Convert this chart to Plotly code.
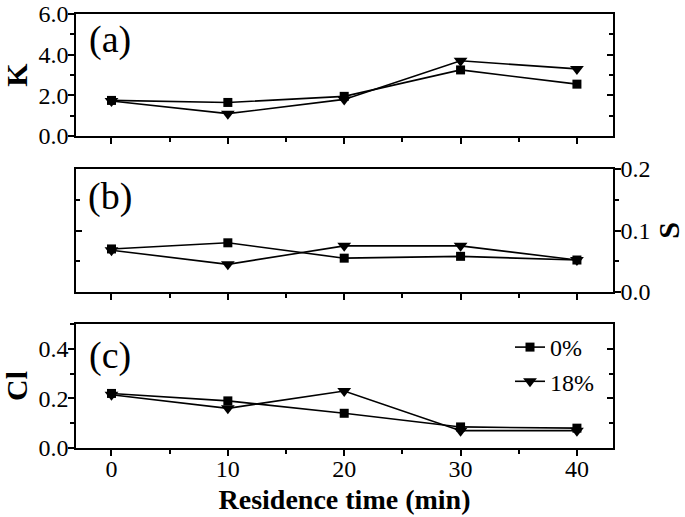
import plotly.graph_objects as go

# ---- data ----
time_min = [0, 10, 20, 30, 40]
series_names = ["0%", "18%"]

K_0 = [1.75, 1.65, 1.95, 3.25, 2.55]
K_18 = [1.72, 1.10, 1.80, 3.70, 3.30]

S_0 = [0.070, 0.080, 0.055, 0.058, 0.052]
S_18 = [0.068, 0.045, 0.075, 0.075, 0.052]

Cl_0 = [0.220, 0.190, 0.140, 0.085, 0.080]
Cl_18 = [0.215, 0.160, 0.230, 0.070, 0.070]

x_ticks = [0, 10, 20, 30, 40]
K_ticks = [0, 2, 4, 6]
K_ticktext = ["0.0", "2.0", "4.0", "6.0"]
S_ticks = [0, 0.1, 0.2]
S_ticktext = ["0.0", "0.1", "0.2"]
Cl_ticks = [0, 0.2, 0.4]
Cl_ticktext = ["0.0", "0.2", "0.4"]

FONT = "Liberation Serif"
BLACK = "#000000"

fig = go.Figure()

def add_pair(y0, y18, xa, ya, legend):
    fig.add_trace(go.Scatter(x=time_min, y=y0, xaxis=xa, yaxis=ya, mode="lines+markers",
                             name=series_names[0], showlegend=legend,
                             line=dict(color=BLACK, width=1.6),
                             marker=dict(symbol="square", size=9, color=BLACK)))
    fig.add_trace(go.Scatter(x=time_min, y=y18, xaxis=xa, yaxis=ya, mode="lines+markers",
                             name=series_names[1], showlegend=legend,
                             line=dict(color=BLACK, width=1.6),
                             marker=dict(symbol="triangle-down", size=12, color=BLACK)))

add_pair(K_0, K_18, "x", "y", False)
add_pair(S_0, S_18, "x2", "y2", False)
add_pair(Cl_0, Cl_18, "x3", "y3", True)

# dummy traces so the mirror-tick axes are drawn
for xa, ya in [("x", "y4"), ("x2", "y5"), ("x3", "y6")]:
    fig.add_trace(go.Scatter(x=[None], y=[None], xaxis=xa, yaxis=ya, showlegend=False,
                             hoverinfo="skip"))

XD = [76 / 685, 613 / 685]
XR = [-3.05, 43.1]
H = 517.0
dom_a = [1 - 136 / H, 1 - 14 / H]
dom_b = [1 - 292 / H, 1 - 169 / H]
dom_c = [1 - 448 / H, 1 - 324 / H]

TICKFONT = dict(family=FONT, size=24, color=BLACK)

def xaxis(anchor, labels):
    return dict(showline=True, linecolor=BLACK, linewidth=1.6, showgrid=False,
                zeroline=False, automargin=False, tickcolor=BLACK, tickwidth=1.5,
                tickfont=TICKFONT, ticklabelstandoff=-8,
                domain=XD, range=XR, anchor=anchor, mirror=True, ticks="outside", ticklen=6,
                tickmode="array", tickvals=x_ticks, showticklabels=labels,
                minor=dict(ticks="outside", ticklen=4, dtick=5, tick0=0, tickcolor=BLACK,
                           tickwidth=1.5, showgrid=False))

def yaxis(anchor, dom, rng, tv, tt, dtick_minor, side, title, standoff):
    return dict(showline=True, linecolor=BLACK, linewidth=1.6, showgrid=False,
                zeroline=False, automargin=False, tickcolor=BLACK, tickwidth=1.5,
                tickfont=TICKFONT, ticklabelstandoff=-5,
                domain=dom, range=rng, anchor=anchor, mirror=True, side=side, ticks="outside",
                ticklen=6, tickmode="array", tickvals=tv, ticktext=tt,
                minor=dict(ticks="outside", ticklen=4, dtick=dtick_minor, tick0=0,
                           tickcolor=BLACK, tickwidth=1.5, showgrid=False),
                title=dict(text="<b>" + title + "</b>",
                           font=dict(family=FONT, size=30, color=BLACK), standoff=standoff))

def ymirror(over, anchor, rng, tv, dtick_minor, side):
    return dict(overlaying=over, anchor=anchor, side=side, range=rng,
                tickmode="array", tickvals=tv,
                showticklabels=False, ticks="inside", ticklen=6, tickcolor=BLACK, tickwidth=1.5,
                showline=False, showgrid=False, zeroline=False, automargin=False,
                minor=dict(ticks="inside", ticklen=4, dtick=dtick_minor, tick0=0,
                           tickcolor=BLACK, tickwidth=1.5, showgrid=False))

fig.update_layout(
    font=dict(family=FONT, size=22, color=BLACK),
    xaxis=xaxis("y", False),
    xaxis2=xaxis("y2", False),
    xaxis3=dict(xaxis("y3", True),
                title=dict(text="<b>Residence time (min)</b>",
                           font=dict(family=FONT, size=28, color=BLACK), standoff=9)),
    yaxis=yaxis("x", dom_a, [0, 6], K_ticks, K_ticktext, 1, "left", "K", 14),
    yaxis2=yaxis("x2", dom_b, [0, 0.2], S_ticks, S_ticktext, 0.05, "right", "S", 14),
    yaxis3=yaxis("x3", dom_c, [0, 0.5], Cl_ticks, Cl_ticktext, 0.1, "left", "Cl", 16),
    yaxis4=ymirror("y", "x", [0, 6], K_ticks, 1, "right"),
    yaxis5=ymirror("y2", "x2", [0, 0.2], S_ticks, 0.05, "left"),
    yaxis6=ymirror("y3", "x3", [0, 0.5], Cl_ticks, 0.1, "right"),
)

panel_labels = [("(a)", 1 - 39 / H), ("(b)", 1 - 197 / H), ("(c)", 1 - 355 / H)]
for txt, yy in panel_labels:
    fig.add_annotation(text=txt, xref="paper", yref="paper", x=110 / 685, y=yy,
                       xanchor="center", yanchor="middle", showarrow=False,
                       font=dict(family=FONT, size=38, color=BLACK))

fig.update_layout(
    width=685, height=517,
    margin=dict(l=0, r=0, t=0, b=0),
    paper_bgcolor="white", plot_bgcolor="white",
    showlegend=True,
    legend=dict(x=510 / 685, y=1 - 325 / H, xanchor="left", yanchor="top",
                bgcolor="rgba(0,0,0,0)", font=dict(family=FONT, size=24, color=BLACK),
                itemwidth=30, tracegroupgap=0),
)

fig.write_html("out.html", config={"displayModeBar": False},
               post_script="document.body.style.margin='0';document.body.style.overflow='hidden';")
